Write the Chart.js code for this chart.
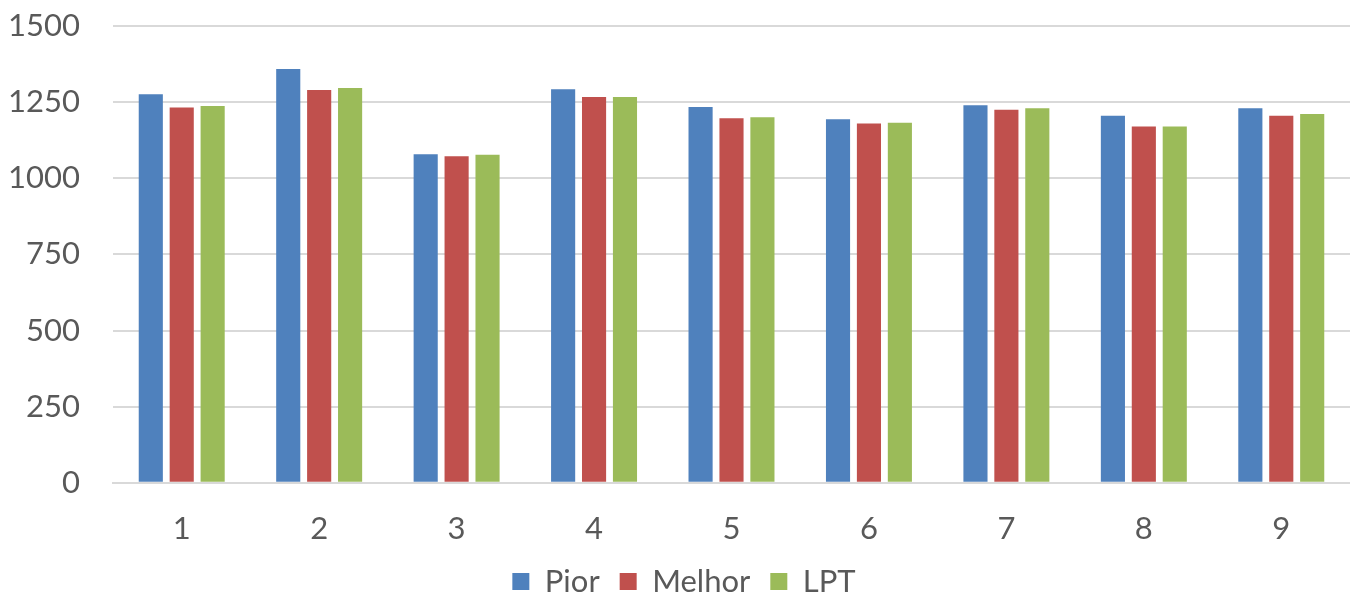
<!DOCTYPE html>
<html>
<head>
<meta charset="utf-8">
<script src="https://cdn.jsdelivr.net/npm/chart.js@4"></script>
<style>
  html, body { margin: 0; padding: 0; background: #fff; }
  #wrap { width: 1350px; height: 597px; }
</style>
</head>
<body>
<div id="wrap"><canvas id="chart"></canvas></div>
<script>
const categories = ["1", "2", "3", "4", "5", "6", "7", "8", "9"];
const pior   = [1276, 1359, 1079, 1292, 1234, 1194, 1240, 1205, 1230];
const melhor = [1232, 1290, 1072, 1267, 1197, 1180, 1225, 1170, 1205];
const lpt    = [1237, 1296, 1077, 1267, 1200, 1182, 1230, 1170, 1211];
const yTicks = [0, 250, 500, 750, 1000, 1250, 1500];

const textColor = "#595959";
const font = { family: "Lato, 'Liberation Sans', sans-serif", size: 31 };

// legend keeps its horizontal spacing but takes less height
const legendSqueeze = {
    id: "legendSqueeze",
    beforeLayout(chart) {
        const legend = chart.legend;
        if (legend && !legend._squeezed) {
            const fit = legend.fit.bind(legend);
            legend.fit = function () { fit(); this.height -= 32; };
            legend._squeezed = true;
        }
    },
    afterLayout(chart) {
        const legend = chart.legend;
        legend.top -= 22;
        legend.bottom = chart.height;
        legend.height = legend.bottom - legend.top;
    }
};

const ctx = document.getElementById("chart").getContext("2d");
new Chart(ctx, {
    type: "bar",
    data: {
        labels: categories,
        datasets: [
            { label: "Pior", data: pior, backgroundColor: "#4f81bd" },
            { label: "Melhor", data: melhor, backgroundColor: "#c0504d" },
            { label: "LPT", data: lpt, backgroundColor: "#9bbb59" }
        ]
    },
    options: {
        responsive: true,
        maintainAspectRatio: false,
        animation: false,
        datasets: {
            bar: { categoryPercentage: 0.675, barPercentage: 0.78 }
        },
        layout: { padding: { top: 26, left: 4, right: -14, bottom: 0 } },
        plugins: {
            legend: {
                position: "bottom",
                labels: {
                    color: textColor,
                    font: font,
                    boxWidth: 17,
                    boxHeight: 17,
                    padding: 20
                }
            },
            tooltip: { enabled: false }
        },
        scales: {
            x: {
                grid: { display: false },
                border: { color: "#d9d9d9", width: 2 },
                ticks: { color: textColor, font: font, padding: 20 },
                afterFit: axis => { axis.paddingLeft = 0; axis.paddingRight = 0; }
            },
            y: {
                min: 0,
                max: 1500,
                afterBuildTicks: axis => { axis.ticks = yTicks.map(v => ({ value: v })); },
                afterFit: axis => { axis.paddingTop = 0; axis.paddingBottom = 0; axis.width = 109; },
                grid: { color: "#d9d9d9", lineWidth: 2, drawTicks: false },
                border: { display: false },
                ticks: { color: textColor, font: font, padding: 33, callback: v => String(v) }
            }
        }
    },
    plugins: [legendSqueeze]
});
</script>
</body>
</html>
